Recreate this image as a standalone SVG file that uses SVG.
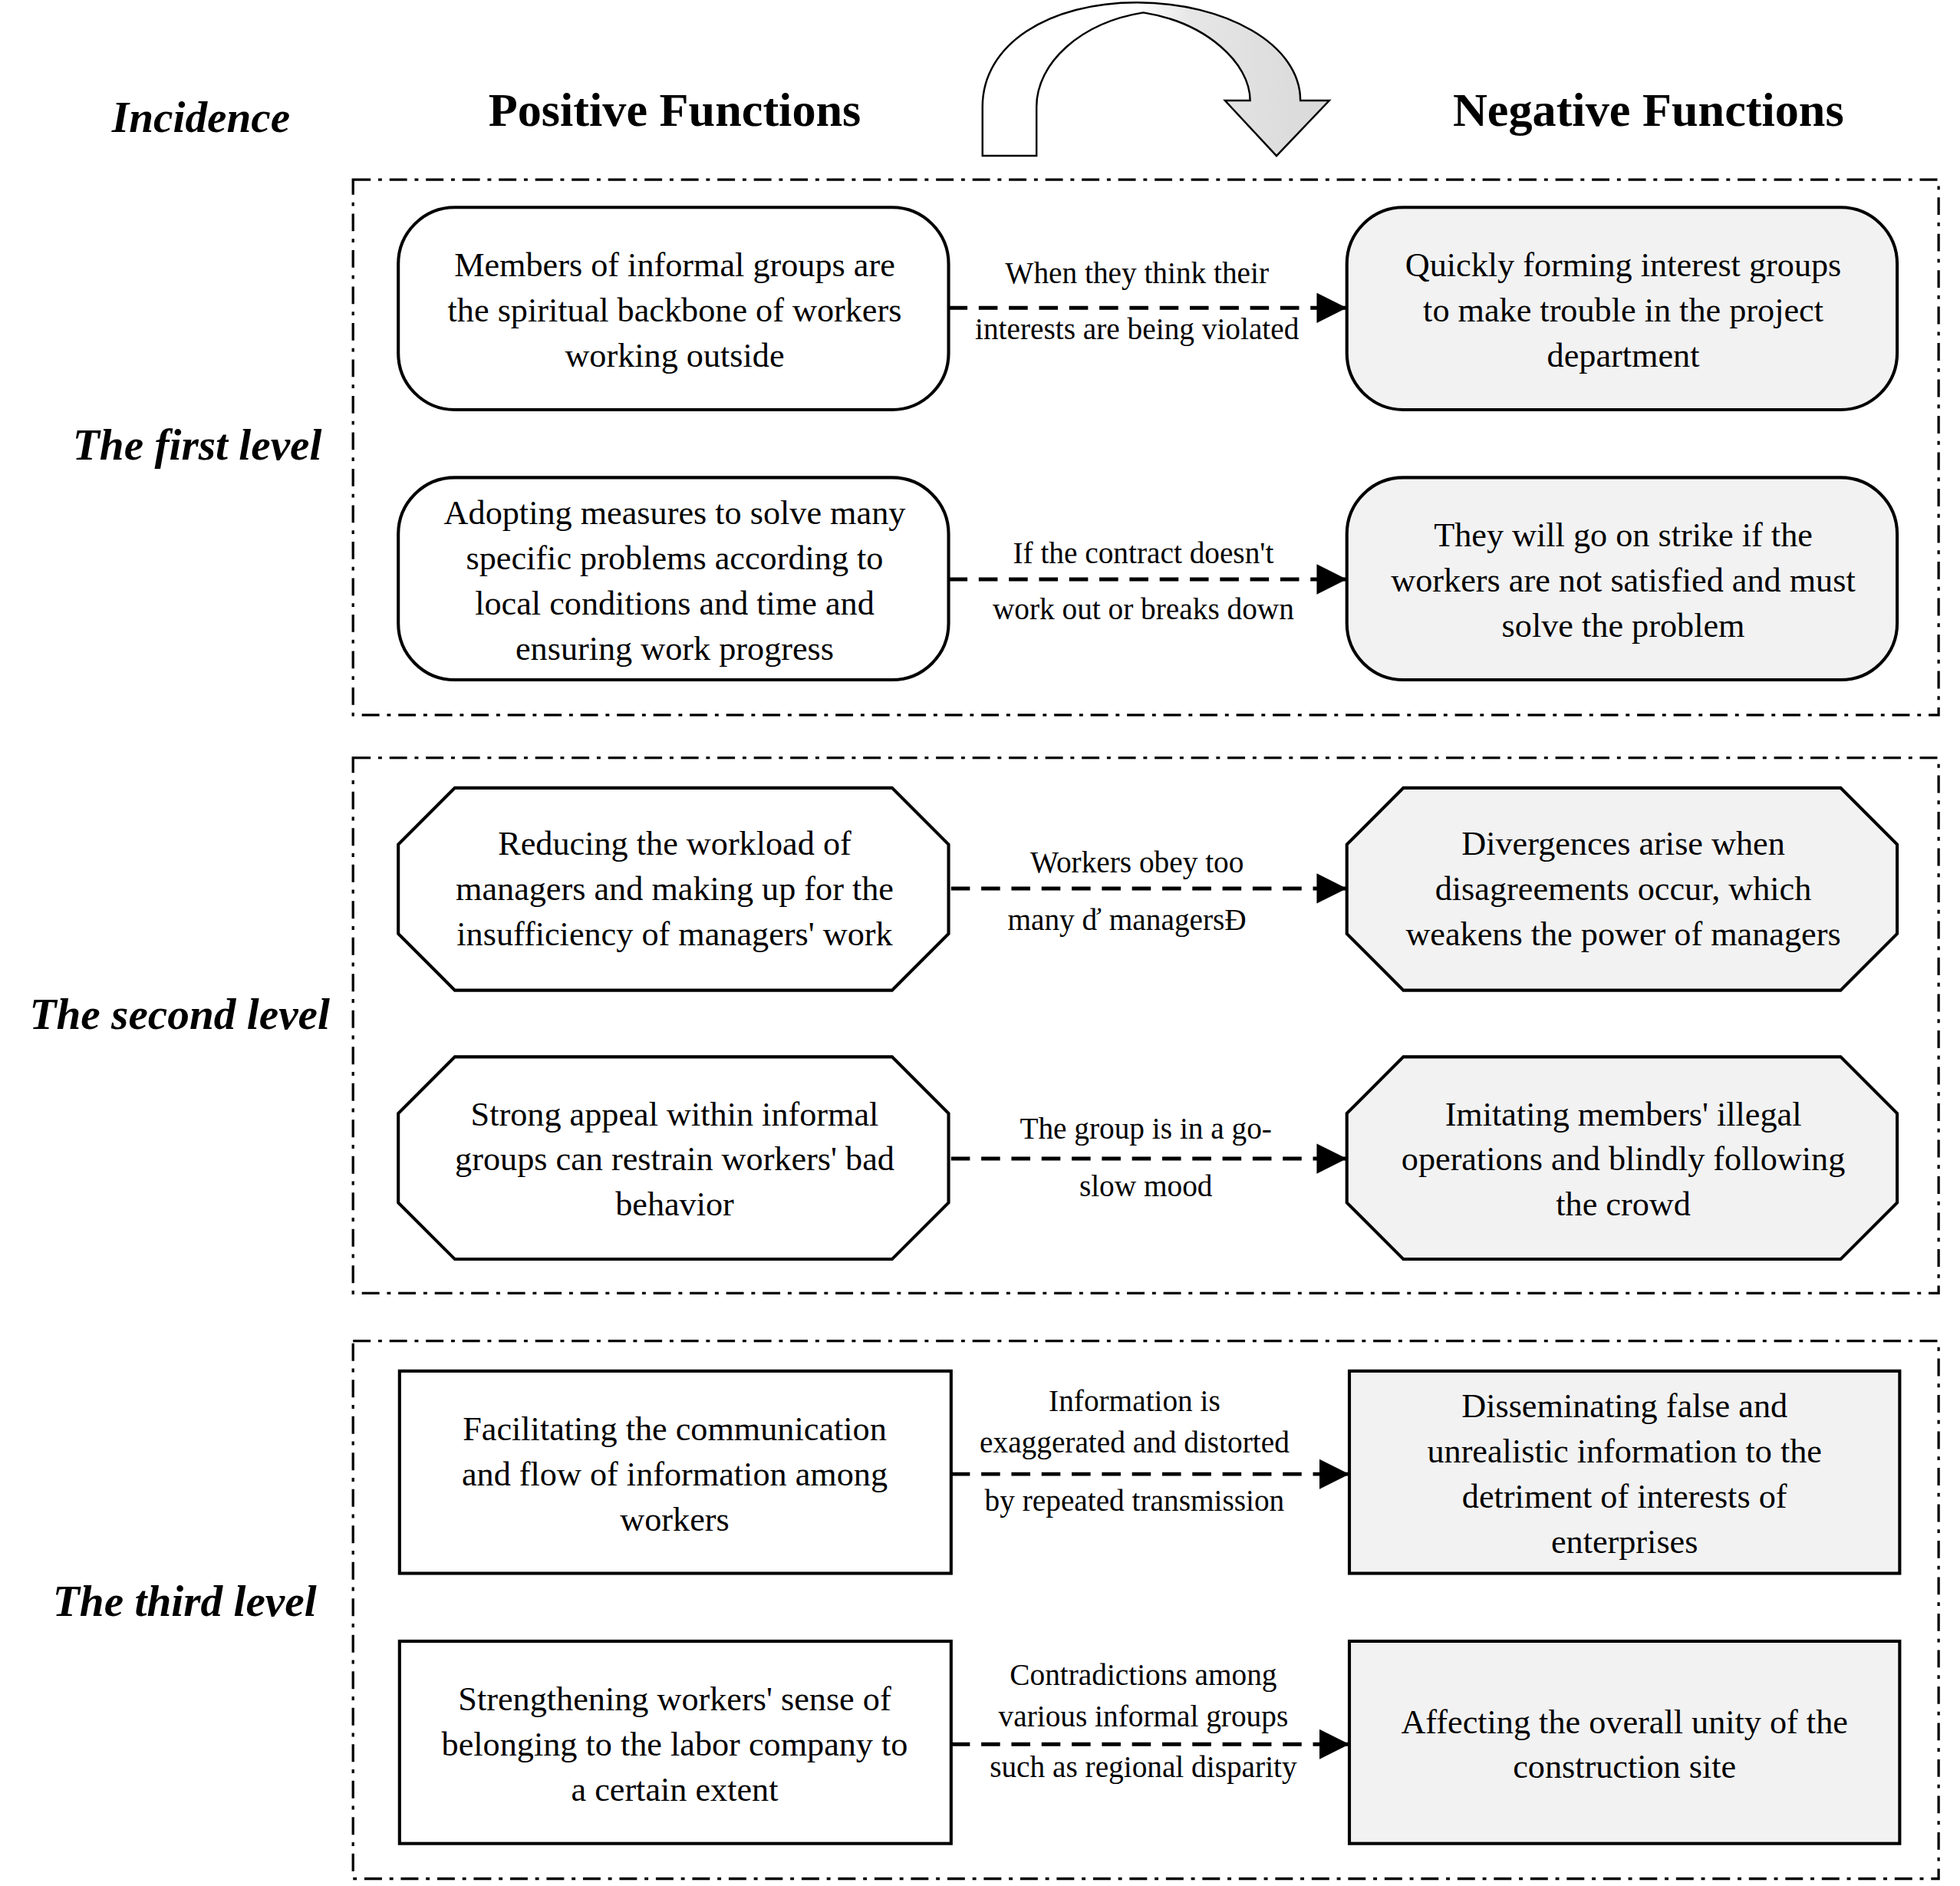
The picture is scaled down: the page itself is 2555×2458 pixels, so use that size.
<svg xmlns="http://www.w3.org/2000/svg" width="2555" height="2458" viewBox="0 0 2555 2458">
<style>
text{font-family:"Liberation Serif","Times New Roman",serif;fill:#000;text-anchor:middle}
.n{font-size:27px}
.l{font-size:24px}
.h{font-size:38px;font-weight:bold}
.i{font-size:35px;font-weight:bold;font-style:italic}
.lv{fill:none;stroke:#000;stroke-width:2;stroke-dasharray:14 6 3 6}
.p{fill:#fff;stroke:#000;stroke-width:2.5}
.q{fill:#f2f2f2;stroke:#000;stroke-width:2.5}
.c{stroke:#000;stroke-width:3;stroke-dasharray:15 9;fill:none;marker-end:url(#ah)}
</style>
<defs>
<marker id="ah" markerWidth="8" markerHeight="8" refX="8" refY="4" orient="auto" markerUnits="strokeWidth"><path d="M0,0 L8,4 L0,8Z" fill="#000"/></marker>
<linearGradient id="g" x1="0" y1="0" x2="1" y2="0"><stop offset="0.45" stop-color="#fff"/><stop offset="0.6" stop-color="#e6e6e6"/><stop offset="1" stop-color="#d9d9d9"/></linearGradient>
</defs>
<rect width="2555" height="2458" fill="#fff"/>
<g transform="scale(1.6378)">
<g id="headers">
<text class="i" x="160" y="105">Incidence</text>
<text class="h" x="537" y="100">Positive Functions</text>
<text class="h" x="1312" y="100">Negative Functions</text>
<path d="M782,124 L782,85 C782,35 835,2 905,2 C975,2 1035,35 1035,80 L1058,80 L1016,124 L975,80 L995,80 C995,50 960,18 910,10 C860,18 825,50 825,85 L825,124 Z" fill="url(#g)" stroke="#000" stroke-width="1.5"/>
</g>
<g id="levels">
<rect class="lv" x="281" y="143" width="1262" height="426"/>
<rect class="lv" x="281" y="603" width="1262" height="426"/>
<rect class="lv" x="281" y="1067" width="1262" height="428"/>
<text class="i" x="157" y="366">The first level</text>
<text class="i" x="143" y="819">The second level</text>
<text class="i" x="147" y="1286">The third level</text>
</g>
<g id="connectors">
<line class="c" x1="755" y1="245" x2="1072" y2="245"/>
<line class="c" x1="755" y1="461" x2="1072" y2="461"/>
<line class="c" x1="757" y1="707" x2="1072" y2="707"/>
<line class="c" x1="757" y1="922" x2="1072" y2="922"/>
<line class="c" x1="757" y1="1173" x2="1074" y2="1173"/>
<line class="c" x1="757" y1="1388" x2="1074" y2="1388"/>
<text class="l" x="905" y="225">When they think their</text>
<text class="l" x="905" y="270">interests are being violated</text>
<text class="l" x="910" y="448">If the contract doesn't</text>
<text class="l" x="910" y="493">work out or breaks down</text>
<text class="l" x="905" y="694">Workers obey too</text>
<text class="l" x="897" y="740">many ď managersĐ</text>
<text class="l" x="912" y="906">The group is in a go-</text>
<text class="l" x="912" y="952">slow mood</text>
<text class="l" x="903" y="1123">Information is</text>
<text class="l" x="903" y="1156">exaggerated and distorted</text>
<text class="l" x="903" y="1202">by repeated transmission</text>
<text class="l" x="910" y="1341">Contradictions among</text>
<text class="l" x="910" y="1374">various informal groups</text>
<text class="l" x="910" y="1414">such as regional disparity</text>
</g>
<g id="p1"><rect class="p" x="317" y="165" width="438" height="161" rx="45"/>
<text class="n" x="537" y="220">Members of informal groups are</text><text class="n" x="537" y="256">the spiritual backbone of workers</text><text class="n" x="537" y="292">working outside</text></g>
<g id="n1"><rect class="q" x="1072" y="165" width="438" height="161" rx="45"/>
<text class="n" x="1292" y="220">Quickly forming interest groups</text><text class="n" x="1292" y="256">to make trouble in the project</text><text class="n" x="1292" y="292">department</text></g>
<g id="p2"><rect class="p" x="317" y="380" width="438" height="161" rx="45"/>
<text class="n" x="537" y="417">Adopting measures to solve many</text><text class="n" x="537" y="453">specific problems according to</text><text class="n" x="537" y="489">local conditions and time and</text><text class="n" x="537" y="525">ensuring work progress</text></g>
<g id="n2"><rect class="q" x="1072" y="380" width="438" height="161" rx="45"/>
<text class="n" x="1292" y="435">They will go on strike if the</text><text class="n" x="1292" y="471">workers are not satisfied and must</text><text class="n" x="1292" y="507">solve the problem</text></g>
<g id="p3"><polygon class="p" points="362,627 710,627 755,672 755,743 710,788 362,788 317,743 317,672"/>
<text class="n" x="537" y="680">Reducing the workload of</text><text class="n" x="537" y="716">managers and making up for the</text><text class="n" x="537" y="752">insufficiency of managers' work</text></g>
<g id="n3"><polygon class="q" points="1117,627 1465,627 1510,672 1510,743 1465,788 1117,788 1072,743 1072,672"/>
<text class="n" x="1292" y="680">Divergences arise when</text><text class="n" x="1292" y="716">disagreements occur, which</text><text class="n" x="1292" y="752">weakens the power of managers</text></g>
<g id="p4"><polygon class="p" points="362,841 710,841 755,886 755,957 710,1002 362,1002 317,957 317,886"/>
<text class="n" x="537" y="896">Strong appeal within informal</text><text class="n" x="537" y="931">groups can restrain workers' bad</text><text class="n" x="537" y="967">behavior</text></g>
<g id="n4"><polygon class="q" points="1117,841 1465,841 1510,886 1510,957 1465,1002 1117,1002 1072,957 1072,886"/>
<text class="n" x="1292" y="896">Imitating members' illegal</text><text class="n" x="1292" y="931">operations  and blindly following</text><text class="n" x="1292" y="967">the crowd</text></g>
<g id="p5"><rect class="p" x="318" y="1091" width="439" height="161"/>
<text class="n" x="537" y="1146">Facilitating the communication</text><text class="n" x="537" y="1182">and flow of information among</text><text class="n" x="537" y="1218">workers</text></g>
<g id="n5"><rect class="q" x="1074" y="1091" width="438" height="161"/>
<text class="n" x="1293" y="1128">Disseminating false and</text><text class="n" x="1293" y="1164">unrealistic information to the</text><text class="n" x="1293" y="1200">detriment of interests of</text><text class="n" x="1293" y="1236">enterprises</text></g>
<g id="p6"><rect class="p" x="318" y="1306" width="439" height="161"/>
<text class="n" x="537" y="1361">Strengthening workers' sense of</text><text class="n" x="537" y="1397">belonging to the labor company to</text><text class="n" x="537" y="1433">a certain extent</text></g>
<g id="n6"><rect class="q" x="1074" y="1306" width="438" height="161"/>
<text class="n" x="1293" y="1379">Affecting the overall unity of the</text><text class="n" x="1293" y="1415">construction site</text></g>
</g>
</svg>
